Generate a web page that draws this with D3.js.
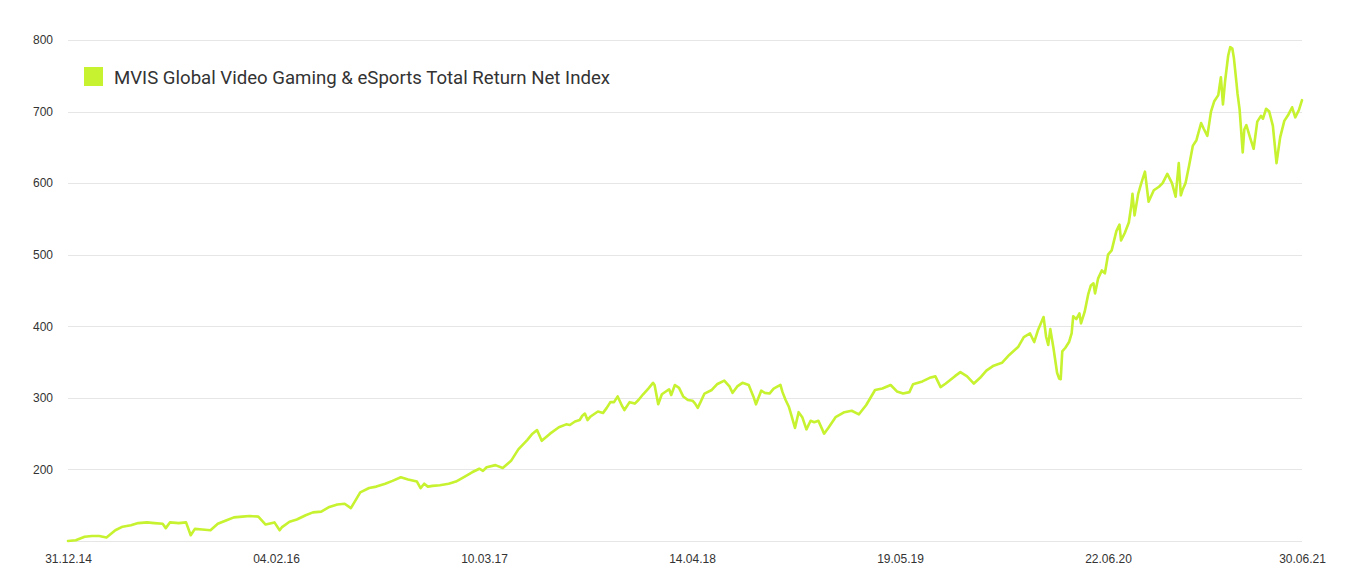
<!DOCTYPE html>
<html>
<head>
<meta charset="utf-8">
<script src="https://cdn.jsdelivr.net/npm/d3@7"></script>
<style>
  html, body { margin: 0; padding: 0; background: #ffffff; }
  svg { display: block; }
</style>
</head>
<body>
<svg id="chart" width="1365" height="587"></svg>
<script>
// ---- data ----
const seriesName = "MVIS Global Video Gaming & eSports Total Return Net Index";

const dates = [
  "2014-12-31","2015-01-15","2015-02-01","2015-02-15","2015-03-01","2015-03-15","2015-04-01","2015-04-15",
  "2015-05-01","2015-05-15","2015-06-01","2015-06-15","2015-07-01","2015-07-07","2015-07-15","2015-08-01",
  "2015-08-15","2015-08-24","2015-09-01","2015-09-15","2015-10-01","2015-10-15","2015-11-01","2015-11-15",
  "2015-12-01","2015-12-15","2016-01-01","2016-01-15","2016-02-01","2016-02-11","2016-02-15","2016-03-01",
  "2016-03-15","2016-04-01","2016-04-15","2016-05-01","2016-05-15","2016-06-01","2016-06-15","2016-06-27",
  "2016-07-15","2016-08-01","2016-08-15","2016-09-01","2016-09-15","2016-10-01","2016-10-15","2016-11-01",
  "2016-11-08","2016-11-15","2016-11-22","2016-12-01","2016-12-15","2017-01-01","2017-01-15","2017-02-01",
  "2017-02-15","2017-03-01","2017-03-08","2017-03-15","2017-04-01","2017-04-15","2017-05-01","2017-05-15",
  "2017-06-01","2017-06-10","2017-06-20","2017-06-29","2017-07-15","2017-08-01","2017-08-15","2017-08-22",
  "2017-09-01","2017-09-10","2017-09-15","2017-09-20","2017-09-25","2017-10-01","2017-10-15","2017-10-25",
  "2017-11-01","2017-11-08","2017-11-15","2017-11-22","2017-12-01","2017-12-05","2017-12-15","2017-12-25",
  "2018-01-01","2018-01-10","2018-01-20","2018-01-29","2018-02-01","2018-02-08","2018-02-15","2018-03-01",
  "2018-03-05","2018-03-12","2018-03-20","2018-03-28","2018-04-06","2018-04-15","2018-04-20","2018-04-25",
  "2018-05-01","2018-05-08","2018-05-22","2018-06-01","2018-06-15","2018-06-25","2018-07-01","2018-07-10",
  "2018-07-20","2018-08-01","2018-08-10","2018-08-15","2018-08-25","2018-09-01","2018-09-10","2018-09-18",
  "2018-10-01","2018-10-05","2018-10-11","2018-10-17","2018-10-22","2018-10-29","2018-11-05","2018-11-12",
  "2018-11-20","2018-11-28","2018-12-05","2018-12-13","2018-12-24","2019-01-01","2019-01-15","2019-02-01",
  "2019-02-15","2019-03-01","2019-03-15","2019-04-01","2019-04-15","2019-05-01","2019-05-13","2019-05-25",
  "2019-06-06","2019-06-13","2019-07-01","2019-07-15","2019-07-26","2019-08-05","2019-08-15","2019-09-01",
  "2019-09-12","2019-09-25","2019-10-08","2019-10-20","2019-11-01","2019-11-15","2019-12-01","2019-12-15",
  "2020-01-01","2020-01-12","2020-01-24","2020-02-01","2020-02-08","2020-02-19","2020-02-24","2020-02-28",
  "2020-03-03","2020-03-09","2020-03-12","2020-03-16","2020-03-20","2020-03-23","2020-03-26","2020-04-01",
  "2020-04-08","2020-04-13","2020-04-16","2020-04-22","2020-04-28","2020-05-01","2020-05-08","2020-05-15",
  "2020-05-20","2020-05-25","2020-05-28","2020-06-03","2020-06-10","2020-06-16","2020-06-22","2020-06-29",
  "2020-07-08","2020-07-14","2020-07-17","2020-07-24","2020-08-01","2020-08-06","2020-08-08","2020-08-12",
  "2020-08-19","2020-08-25","2020-09-01","2020-09-08","2020-09-18","2020-09-28","2020-10-05","2020-10-14",
  "2020-10-23","2020-10-30","2020-11-05","2020-11-09","2020-11-12","2020-11-18","2020-11-25","2020-12-02",
  "2020-12-09","2020-12-18","2020-12-23","2020-12-30","2021-01-06","2021-01-12","2021-01-20","2021-01-25",
  "2021-01-29","2021-02-02","2021-02-08","2021-02-12","2021-02-16","2021-02-19","2021-02-24","2021-02-26",
  "2021-03-02","2021-03-08","2021-03-11","2021-03-15","2021-03-22","2021-03-29","2021-04-05","2021-04-12",
  "2021-04-16","2021-04-22","2021-04-28","2021-05-05","2021-05-12","2021-05-19","2021-05-27","2021-06-04",
  "2021-06-11","2021-06-17","2021-06-24","2021-06-30"
];

const values = [
  100,101,106,107,107,105,115,120,
  122,125,126,125,124,118,126,125,
  126,108,117,116,115,124,129,133,
  134,135,134,123,126,115,119,127,
  130,136,140,141,147,151,152,146,
  168,174,176,180,184,189,186,183,
  174,180,176,177,178,180,183,190,
  196,201,198,203,206,202,212,228,
  241,249,255,240,250,259,263,262,
  267,269,275,278,269,274,281,279,
  286,294,294,302,288,283,294,292,
  297,305,313,321,318,291,305,312,
  304,318,314,302,297,296,292,286,
  295,306,311,319,324,316,307,316,
  321,318,302,291,310,307,306,313,
  318,308,297,288,276,258,280,273,
  256,268,266,268,250,258,273,280,
  282,277,290,311,313,318,309,306,
  308,319,323,328,330,315,320,330,
  336,330,320,328,338,345,349,360,
  371,385,390,378,394,413,385,374,
  396,370,355,335,327,326,365,370,
  378,390,414,410,418,404,420,445,
  457,460,446,467,478,474,500,506,
  533,542,520,530,545,570,585,555,
  585,600,616,574,590,595,600,613,
  600,581,628,583,590,600,625,652,
  660,684,676,666,700,714,723,748,
  710,742,778,790,788,775,740,725,
  703,643,675,681,664,648,686,694,
  690,704,700,680,628,664,687,696,
  706,692,702,716
];

const xTickLabels = ["31.12.14","04.02.16","10.03.17","14.04.18","19.05.19","22.06.20","30.06.21"];
const yTickValues = [200, 300, 400, 500, 600, 700, 800];
const yGridValues = [100, 200, 300, 400, 500, 600, 700, 800];
const yDomain = [100, 800];

// ---- chart ----
(function () {
  const parseISO = d3.timeParse("%Y-%m-%d");
  const parseTick = d3.timeParse("%d.%m.%y");
  const fmtTick = d3.timeFormat("%d.%m.%y");
  const data = dates.map((d, i) => ({ date: parseISO(d), value: values[i] }));
  const tickDates = xTickLabels.map(parseTick);

  const svg = d3.select("#chart");
  const mLeft = 68, mRight = 1302, mTop = 40, mBottom = 541;
  const lineColor = "#c6f22f";
  const textColor = "#333333";

  const x = d3.scaleTime()
    .domain([tickDates[0], tickDates[tickDates.length - 1]])
    .range([mLeft, mRight]);
  const y = d3.scaleLinear().domain(yDomain).range([mBottom, mTop]);

  // gridlines
  svg.append("g")
    .selectAll("line")
    .data(yGridValues)
    .join("line")
    .attr("x1", mLeft).attr("x2", mRight)
    .attr("y1", d => Math.round(y(d)) + 0.5).attr("y2", d => Math.round(y(d)) + 0.5)
    .attr("stroke", "#e6e6e6").attr("stroke-width", 1);

  // y axis
  const yAxis = d3.axisLeft(y).tickValues(yTickValues).tickSize(0).tickPadding(0).tickFormat(d3.format("d"));
  const gy = svg.append("g").attr("transform", `translate(${mLeft - 15},0)`).call(yAxis);
  gy.select(".domain").remove();
  gy.selectAll("text")
    .attr("fill", textColor)
    .style("font-family", "'Liberation Sans', Arial, Helvetica, sans-serif")
    .style("font-size", "12px");

  // x axis
  const xAxis = d3.axisBottom(x).tickValues(tickDates).tickSize(0).tickPadding(0).tickFormat(fmtTick);
  const gx = svg.append("g").attr("transform", `translate(0,${mBottom + 13})`).call(xAxis);
  gx.select(".domain").remove();
  gx.selectAll("text")
    .attr("fill", textColor)
    .style("font-family", "'Liberation Sans', Arial, Helvetica, sans-serif")
    .style("font-size", "12px");

  // line
  const line = d3.line()
    .x(d => x(d.date))
    .y(d => y(d.value))
    .curve(d3.curveLinear);

  svg.append("path")
    .datum(data)
    .attr("d", line)
    .attr("fill", "none")
    .attr("stroke", lineColor)
    .attr("stroke-width", 2.6)
    .attr("stroke-linejoin", "round")
    .attr("stroke-linecap", "round");

  // legend
  const legend = svg.append("g");
  legend.append("rect")
    .attr("x", 84).attr("y", 67).attr("width", 19).attr("height", 19)
    .attr("fill", lineColor);
  const lt = legend.append("text")
    .attr("x", 114).attr("y", 84)
    .attr("fill", textColor)
    .style("font-family", "Roboto, 'Noto Sans', sans-serif")
    .style("font-size", "100px")
    .text(seriesName);
  const w100 = lt.node().getComputedTextLength();
  lt.style("font-size", (100 * 496 / w100).toFixed(2) + "px");
})();
</script>
</body>
</html>
